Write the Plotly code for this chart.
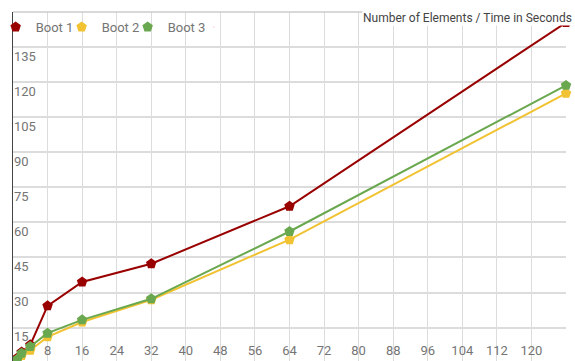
import plotly.graph_objects as go

x_elements = [1, 2, 4, 8, 16, 32, 64, 128]
boot1 = [2.0, 4.5, 7.6, 24.3, 34.5, 42.3, 66.9, 145.5]
boot2 = [1.0, 3.0, 5.3, 11.0, 17.4, 26.9, 52.6, 115.2]
boot3 = [1.5, 4.0, 6.9, 12.6, 18.3, 27.3, 56.1, 118.6]
series_names = ["Boot 1", "Boot 2", "Boot 3"]
series_colors = ["#990000", "#f1c232", "#6aa84f"]
x_ticks = list(range(0, 121, 8))
y_ticks = list(range(15, 136, 15))
title_text = "Number of Elements / Time in Seconds"

fig = go.Figure()
for name, vals, col in zip(series_names, [boot1, boot2, boot3], series_colors):
    fig.add_trace(go.Scatter(
        x=x_elements, y=vals, name=name, mode="lines+markers", legendgroup=name,
        showlegend=False,
        line=dict(color=col, width=2),
        marker=dict(symbol="pentagon", size=11, color=col),
        cliponaxis=False,
    ))
# legend entries: marker only
for name, col in zip(series_names, series_colors):
    fig.add_trace(go.Scatter(
        x=[None], y=[None], name=name, mode="markers", legendgroup=name,
        marker=dict(symbol="pentagon", size=11, color=col),
    ))
# spacer entry so the last legend label is not clipped
fig.add_trace(go.Scatter(x=[None], y=[None], name="\u00a0", mode="markers",
                         marker=dict(size=1, opacity=0), hoverinfo="skip"))

fig.update_layout(
    width=575, height=361,
    margin=dict(l=13, r=9, t=12, b=0, autoexpand=False),
    paper_bgcolor="white", plot_bgcolor="white",
    font=dict(family="Roboto", size=13, color="#757575"),
    showlegend=True,
    legend=dict(orientation="h", x=-0.0314, y=1, xanchor="left", yanchor="top",
                bgcolor="rgba(0,0,0,0)", font=dict(size=13, color="#757575"),
                itemwidth=30, tracegroupgap=0, entrywidth=21, entrywidthmode="pixels"),
    annotations=[dict(text=title_text, xref="paper", yref="paper", x=1.0127, y=1.0,
                      xanchor="right", yanchor="top", showarrow=False, yshift=2,
                      bgcolor="white", borderpad=0,
                      font=dict(size=12, color="#444444"))],
)
fig.update_xaxes(range=[0, 128], tickvals=x_ticks, ticktext=[str(v) for v in x_ticks],
                 ticklabelposition="inside", showgrid=True, gridcolor="#dcdcdc",
                 gridwidth=1, zeroline=False, showline=False, ticks="", automargin=False,
                 tickfont=dict(size=13, color="#757575"))
fig.update_yaxes(range=[0.7, 150], tickvals=y_ticks, ticklabelposition="inside bottom",
                 showgrid=True, gridcolor="#dcdcdc", gridwidth=1.5, zeroline=False,
                 showline=True, linecolor="#444444", linewidth=1, ticks="", automargin=False,
                 mirror=False, tickfont=dict(size=13, color="#757575"))
fig.add_shape(type="line", xref="paper", yref="paper", x0=0, x1=1, y0=1, y1=1,
              line=dict(color="#cccccc", width=1.5))
fig.write_html("out.html", post_script="document.body.style.margin='0';",
               config={"displayModeBar": False})
